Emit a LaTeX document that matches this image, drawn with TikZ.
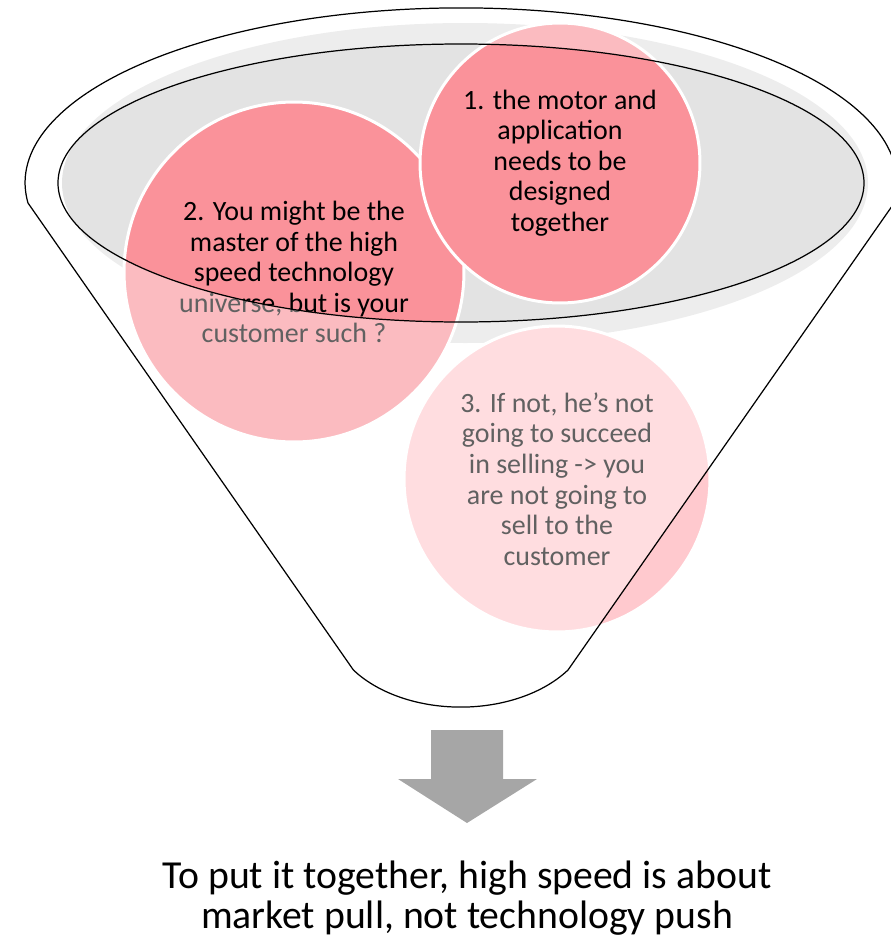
\documentclass[tikz,border=0pt]{standalone}
\usepackage{fontspec}
\setmainfont{Carlito}
\usepackage{xcolor}
\usepackage{tikz}

\definecolor{petal}{RGB}{250,146,154}
\definecolor{petallight}{RGB}{255,201,206}
\definecolor{bowlgray}{RGB}{227,227,227}
\definecolor{arrowgray}{RGB}{166,166,166}

% outline of the funnel (pixel units, y down)
\newcommand{\funnelrim}{(28,203) arc[start angle=173.4, end angle=366.6, x radius=436, y radius=175] -- (568,670) arc[start angle=35, end angle=145, x radius=131, y radius=87] -- cycle}

\begin{document}
\begin{tikzpicture}[x=0.02cm, y=-0.02cm]

        % Styles
        \tikzstyle{ball} = [circle, draw=white, line width=1.7pt, align=center, inner sep=0pt, font=\fontsize{15.9}{17.4}\selectfont]
        \tikzstyle{rim} = [draw=black, line width=0.7pt]

        \useasboundingbox (0,0) rectangle (890,940);

        % Bowl
        \fill[bowlgray] (465,183) ellipse [x radius=403, y radius=160];

        % Balls
        \node[ball, fill=petallight, minimum size=6.12cm] (ball3) at (557,479) {3. If not, he’s not\\going to succeed\\in selling -> you\\are not going to\\sell to the\\customer};
        \node[ball, fill=petal, minimum size=6.8cm] (ball2) at (294,272) {2. You might be the\\master of the high\\speed technology\\universe, but is your\\customer such ?};
        \node[ball, fill=petal, minimum size=5.6cm] (ball1) at (560,163) {1. the motor and\\application\\needs to be\\designed\\together};

        % Glass of the funnel body
        \fill[white, opacity=0.38, even odd rule] \funnelrim (461,183) ellipse [x radius=403, y radius=139];

        % Outlines
        \draw[rim] \funnelrim;
        \draw[rim] (461,183) ellipse [x radius=403, y radius=139];

        % Down arrow
        \fill[arrowgray] (431,730) -- (503,730) -- (503,779) -- (537,779) -- (467,823) -- (398,779) -- (431,779) -- cycle;

        % Caption
        \node[align=center, font=\fontsize{22.6}{22.7}\selectfont] (caption) at (467,898) {To put it together, high speed is about\\market pull, not technology push};

\end{tikzpicture}
\end{document}
